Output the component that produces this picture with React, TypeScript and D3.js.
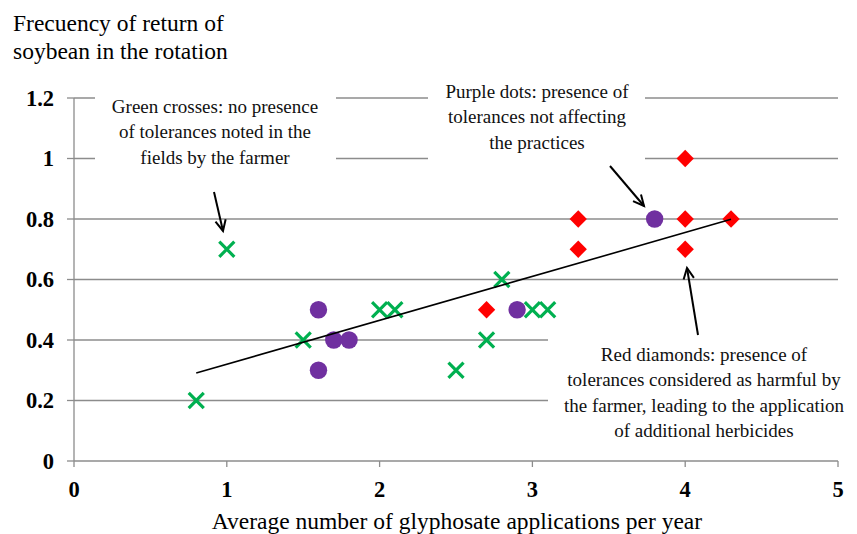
import React, { useEffect, useRef } from 'react';
import * as d3 from 'd3';

// data
const greenX = [0.8, 1, 1.5, 2, 2.1, 2.5, 2.7, 2.8, 3, 3.1];
const greenY = [0.2, 0.7, 0.4, 0.5, 0.5, 0.3, 0.4, 0.6, 0.5, 0.5];
const purpleX = [1.6, 1.6, 1.7, 1.8, 2.9, 3.8];
const purpleY = [0.5, 0.3, 0.4, 0.4, 0.5, 0.8];
const redX = [2.7, 3.3, 3.3, 4, 4, 4, 4.3];
const redY = [0.5, 0.8, 0.7, 1, 0.8, 0.7, 0.8];
const xTicks = [0, 1, 2, 3, 4, 5];
const yTicks = [0, 0.2, 0.4, 0.6, 0.8, 1, 1.2];

const greenNote = ['Green crosses: no presence', 'of tolerances noted in the', 'fields by the farmer'];
const purpleNote = ['Purple dots: presence of', 'tolerances not affecting', 'the practices'];
const redNote = ['Red diamonds: presence of', 'tolerances considered as harmful by', 'the farmer, leading to the application', 'of additional herbicides'];

const App = () => {
  const ref = useRef<SVGSVGElement>(null);

  useEffect(() => {
    const width = 857;
    const height = 534;
    const svg = d3.select(ref.current);
    svg.selectAll('*').remove();
    const font = '"Liberation Serif", "Times New Roman", serif';

    const x = d3.scaleLinear().domain([0, 5]).range([74, 838]);
    const y = d3.scaleLinear().domain([0, 1.2]).range([461, 98]);
    const gray = '#8c8c8c';

    // gridlines
    svg.selectAll('.grid')
      .data(yTicks.filter(t => t > 0))
      .enter().append('line')
      .attr('x1', x(0)).attr('x2', x(5))
      .attr('y1', d => y(d)).attr('y2', d => y(d))
      .attr('stroke', gray).attr('stroke-width', 1.3);

    // white note boxes hide the gridlines behind the text
    const boxes = [
      { x0: 95, x1: 336, y0: 88, y1: 172 },
      { x0: 428, x1: 645, y0: 88, y1: 172 },
      { x0: 548, x1: 857, y0: 332, y1: 448 },
    ];
    svg.selectAll('.box').data(boxes).enter().append('rect')
      .attr('x', d => d.x0).attr('y', d => d.y0)
      .attr('width', d => d.x1 - d.x0).attr('height', d => d.y1 - d.y0)
      .attr('fill', 'white');

    // axes
    svg.append('line').attr('x1', x(0)).attr('x2', x(0)).attr('y1', y(1.2)).attr('y2', y(0))
      .attr('stroke', gray).attr('stroke-width', 1.3);
    svg.append('line').attr('x1', x(0)).attr('x2', x(5)).attr('y1', y(0)).attr('y2', y(0))
      .attr('stroke', gray).attr('stroke-width', 1.3);
    svg.selectAll('.ytick').data(yTicks).enter().append('line')
      .attr('x1', x(0) - 7).attr('x2', x(0)).attr('y1', d => y(d)).attr('y2', d => y(d))
      .attr('stroke', gray).attr('stroke-width', 1.3);
    svg.selectAll('.xtick').data(xTicks).enter().append('line')
      .attr('x1', d => x(d)).attr('x2', d => x(d)).attr('y1', y(0)).attr('y2', y(0) + 6)
      .attr('stroke', gray).attr('stroke-width', 1.3);

    svg.selectAll('.ylab').data(yTicks).enter().append('text')
      .attr('x', 54).attr('y', d => y(d) + 7.5)
      .attr('text-anchor', 'end')
      .attr('font-family', font).attr('font-weight', 'bold').attr('font-size', 22.5)
      .text(d => d3.format('~g')(d));
    svg.selectAll('.xlab').data(xTicks).enter().append('text')
      .attr('x', d => x(d)).attr('y', 497)
      .attr('text-anchor', 'middle')
      .attr('font-family', font).attr('font-weight', 'bold').attr('font-size', 22.5)
      .text(d => d);

    // axis titles
    svg.append('text').attr('x', 13).attr('y', 31)
      .attr('font-family', font).attr('font-size', 23.5).text('Frecuency of return of');
    svg.append('text').attr('x', 13).attr('y', 59)
      .attr('font-family', font).attr('font-size', 23.5).text('soybean in the rotation');
    svg.append('text').attr('x', 457).attr('y', 529).attr('text-anchor', 'middle')
      .attr('font-family', font).attr('font-size', 23.5)
      .text('Average number of glyphosate applications per year');

    // note text
    const notes = [
      { lines: greenNote, cx: 215, y0: 113 },
      { lines: purpleNote, cx: 537, y0: 98 },
      { lines: redNote, cx: 704, y0: 361 },
    ];
    notes.forEach(n => {
      svg.append('g').selectAll('text').data(n.lines).enter().append('text')
        .attr('x', n.cx).attr('y', (d, i) => n.y0 + i * 25.3)
        .attr('text-anchor', 'middle')
        .attr('font-family', font).attr('font-size', 19)
        .attr('fill', '#111')
        .text(d => d);
    });

    // trend line (least squares over all points)
    const allX = [...greenX, ...purpleX, ...redX];
    const allY = [...greenY, ...purpleY, ...redY];
    const mx = d3.mean(allX) as number;
    const my = d3.mean(allY) as number;
    const sxy = d3.sum(allX, (v, i) => (v - mx) * (allY[i] - my));
    const sxx = d3.sum(allX, v => (v - mx) * (v - mx));
    const slope = sxy / sxx;
    const icept = my - slope * mx;
    const x0 = d3.min(allX) as number;
    const x1 = d3.max(allX) as number;

    // markers
    svg.selectAll('.green').data(greenX).enter().append('path')
      .attr('d', d3.symbol(d3.symbolX, 150)())
      .attr('transform', (d, i) => `translate(${x(d)},${y(greenY[i])})`)
      .attr('fill', 'none').attr('stroke', '#00b050').attr('stroke-width', 3.2);
    svg.selectAll('.purple').data(purpleX).enter().append('circle')
      .attr('cx', d => x(d)).attr('cy', (d, i) => y(purpleY[i]))
      .attr('r', 8.7).attr('fill', '#7030a0');
    svg.selectAll('.red').data(redX).enter().append('path')
      .attr('d', d3.symbol(d3.symbolSquare, 150)())
      .attr('transform', (d, i) => `translate(${x(d)},${y(redY[i])}) rotate(45)`)
      .attr('fill', '#ff0000');

    svg.append('line')
      .attr('x1', x(x0)).attr('y1', y(icept + slope * x0))
      .attr('x2', x(x1)).attr('y2', y(icept + slope * x1))
      .attr('stroke', 'black').attr('stroke-width', 1.6);

    // arrows pointing at the markers
    const arrows = [
      { from: [214, 192], to: [223, 231] },
      { from: [610, 166], to: [644, 206] },
      { from: [698, 335], to: [687, 268] },
    ];
    arrows.forEach(a => {
      const [fx, fy] = a.from;
      const [tx, ty] = a.to;
      const ang = Math.atan2(ty - fy, tx - fx);
      const len = 12;
      const spread = 0.45;
      const g = svg.append('g').attr('stroke', 'black').attr('stroke-width', 2).attr('fill', 'none');
      g.append('line').attr('x1', fx).attr('y1', fy).attr('x2', tx).attr('y2', ty);
      g.append('path').attr('d',
        `M${tx - len * Math.cos(ang - spread)},${ty - len * Math.sin(ang - spread)}` +
        `L${tx},${ty}` +
        `L${tx - len * Math.cos(ang + spread)},${ty - len * Math.sin(ang + spread)}`);
    });

    svg.attr('width', width).attr('height', height);
  }, []);

  return (
    <svg ref={ref} width={857} height={534}
      style={{ position: 'absolute', left: 0, top: 0, background: 'white' }} />
  );
};

export default App;
